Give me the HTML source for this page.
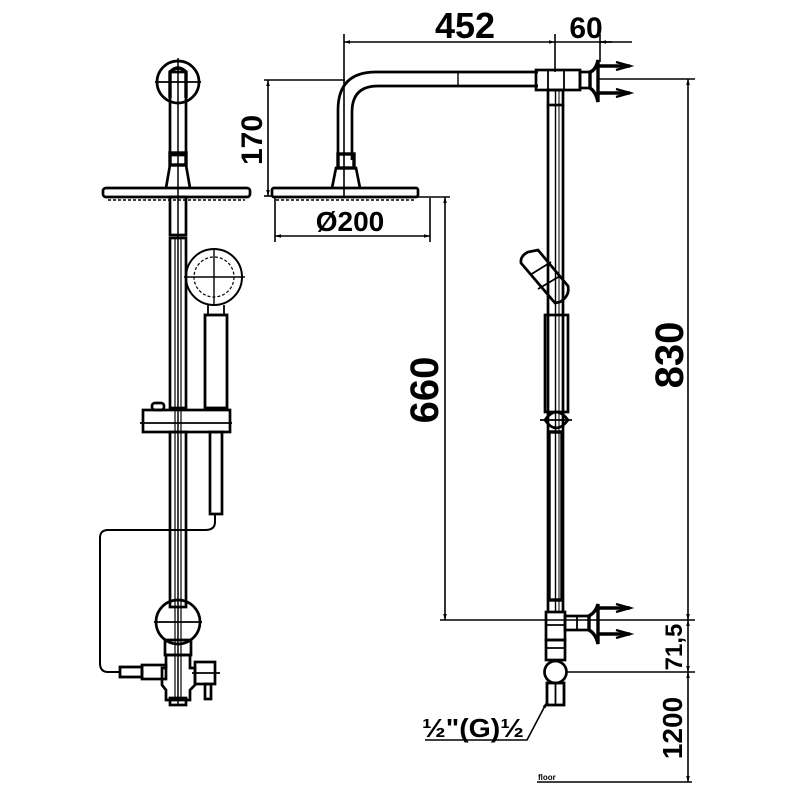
<!DOCTYPE html>
<html><head><meta charset="utf-8"><style>
html,body{margin:0;padding:0;background:#fff}
svg{display:block}
text{font-family:"Liberation Sans",sans-serif;font-weight:bold;fill:#000}
</style></head><body>
<svg width="800" height="800" viewBox="0 0 800 800" xmlns="http://www.w3.org/2000/svg">
<defs>
<marker id="a" viewBox="0 0 10 10" refX="10" refY="5" markerWidth="8" markerHeight="6" orient="auto-start-reverse" markerUnits="userSpaceOnUse"><path d="M0,2 L10,5 L0,8 z" fill="#000"/></marker>
</defs>
<g fill="none" stroke="#000" stroke-width="2.7">
<!-- LEFT VIEW -->
<circle cx="178" cy="82" r="21"/>
<line x1="155" y1="82" x2="201" y2="82" stroke-width="1.8"/>
<line x1="178" y1="58" x2="178" y2="705" stroke-width="1.5"/>
<path d="M170,98 V72 Q178,64 186,72 V98" stroke-width="3.4"/>
<rect x="170" y="72" width="16" height="83"/>
<rect x="170" y="153" width="16" height="12" stroke-width="3.4"/>
<path d="M166,188 L170,165 H186 L190,188"/>
<rect x="103" y="188" width="147" height="9" rx="3"/>
<line x1="108" y1="200" x2="245" y2="200" stroke-width="1.4" stroke-dasharray="3,2"/>
<rect x="170" y="197" width="16" height="38"/>
<rect x="170" y="238" width="16" height="170"/>
<line x1="175" y1="238" x2="175" y2="700" stroke-width="1.2"/>
<line x1="181" y1="238" x2="181" y2="700" stroke-width="1.2"/>
<circle cx="214" cy="277" r="28" stroke-width="2"/>
<circle cx="214" cy="277" r="20" stroke-width="1.2" stroke-dasharray="3,2"/>
<line x1="184" y1="277" x2="245" y2="277" stroke-width="1.4"/>
<line x1="214" y1="250" x2="214" y2="305" stroke-width="1.4"/>
<rect x="205" y="315" width="22" height="93" stroke-width="2.8"/>
<line x1="208" y1="305" x2="208" y2="315" stroke-width="1.8"/>
<line x1="224" y1="305" x2="224" y2="315" stroke-width="1.8"/>
<rect x="143" y="410" width="87" height="22"/>
<line x1="140" y1="423" x2="232" y2="423" stroke-width="1.8"/>
<rect x="152" y="403" width="12" height="7" rx="3"/>
<rect x="170" y="432" width="16" height="175"/>
<rect x="210" y="432" width="12" height="82"/>
<path d="M215,514 V522 Q215,530 205,530 H108 Q100,530 100,538 V663 Q100,672 108,672 H120" stroke-width="2"/>
<circle cx="178" cy="622" r="22"/>
<line x1="154" y1="622" x2="202" y2="622" stroke-width="1.8"/>
<path d="M165,640 H191 V655 H165 Z"/>
<path d="M166,655 H190 V668 H195 V685 L190,690 V700 H166 V690 L162,685 V668 H166 Z"/>
<rect x="120" y="667" width="22" height="10" stroke-width="2.8"/>
<rect x="142" y="665" width="24" height="14"/>
<rect x="195" y="662" width="20" height="22"/>
<line x1="192" y1="673" x2="220" y2="673" stroke-width="1.8"/>
<rect x="205" y="684" width="6" height="15"/>
<rect x="170" y="698" width="16" height="7"/>

<!-- RIGHT VIEW -->
<path d="M338,160 V110 Q338,72 376,72 H538" />
<path d="M352,160 V112 Q352,86 378,86 H538" />
<line x1="458" y1="72" x2="458" y2="86" stroke-width="1.4"/>
<rect x="338" y="154" width="16" height="14" stroke-width="3.4"/>
<path d="M332,188 L336,168 H356 L360,188"/>
<rect x="272" y="188" width="146" height="9" rx="2"/>
<line x1="276" y1="200" x2="414" y2="200" stroke-width="1.4" stroke-dasharray="3,2"/>
<rect x="536" y="70" width="44" height="20"/>
<line x1="548" y1="70" x2="548" y2="90" stroke-width="1.8"/>
<line x1="564" y1="70" x2="564" y2="90" stroke-width="1.8"/>
<rect x="580" y="72" width="10" height="16"/>
<path d="M590,72 Q596,70 598,60 V102 Q596,92 590,88 Z" stroke-width="3.4"/>
<path d="M598,66 H630 M598,93 H630" stroke-width="3.4"/>
<path d="M616,62 L630,66 L616,70 M616,89 L630,93 L616,97" stroke-width="2.4"/>
<rect x="548" y="90" width="15" height="15"/>
<line x1="548" y1="105" x2="548" y2="612"/>
<line x1="563" y1="105" x2="563" y2="612"/>
<line x1="555.5" y1="90" x2="555.5" y2="612" stroke-width="1.4"/>
<line x1="559" y1="90" x2="559" y2="612" stroke-width="1"/>
<path d="M521,263 Q520,256 528,252 L538,250 L568,286 Q570,296 560,302 L555,303 Z"/>
<line x1="530" y1="275" x2="551" y2="262" stroke-width="1.8"/>
<line x1="538" y1="289" x2="560" y2="276" stroke-width="1.8"/>
<rect x="545" y="315" width="23" height="97"/>
<path d="M545,420 Q556,404 568,420 Q556,436 545,420 Z"/>
<line x1="540" y1="420" x2="572" y2="420" stroke-width="1.8"/>
<rect x="549" y="432" width="13" height="168" stroke-width="3.4"/>
<rect x="546" y="612" width="19" height="28"/>
<line x1="546" y1="625" x2="565" y2="625" stroke-width="1.8"/>
<rect x="565" y="616" width="24" height="14"/>
<line x1="577" y1="616" x2="577" y2="630" stroke-width="1.8"/>
<path d="M589,616 Q596,612 598,604 V644 Q596,634 589,630 Z" stroke-width="3.4"/>
<path d="M598,608 H630 M598,634 H630" stroke-width="3.4"/>
<path d="M616,604 L630,608 L616,612 M616,630 L630,634 L616,638" stroke-width="2.4"/>
<rect x="546" y="640" width="19" height="20"/>
<line x1="546" y1="648" x2="565" y2="648" stroke-width="1.8"/>
<circle cx="555.5" cy="672" r="11"/>
<rect x="547" y="683" width="17" height="22" stroke-width="2.8"/>
<line x1="555.5" y1="683" x2="555.5" y2="705" stroke-width="1.8"/>

<!-- DIMENSIONS -->
<g stroke-width="1.6">
<line x1="344" y1="34" x2="344" y2="198"/>
<line x1="555" y1="34" x2="555" y2="72"/>
<line x1="600" y1="34" x2="600" y2="62"/>
<line x1="344" y1="42" x2="555" y2="42" marker-start="url(#a)" marker-end="url(#a)"/>
<line x1="555" y1="42" x2="632" y2="42"/>
<line x1="600" y1="42" x2="612" y2="42" marker-start="url(#a)"/>
<line x1="264" y1="80" x2="345" y2="80"/>
<line x1="264" y1="196" x2="272" y2="196"/>
<line x1="268" y1="80" x2="268" y2="196" marker-start="url(#a)" marker-end="url(#a)"/>
<line x1="275" y1="198" x2="275" y2="242"/>
<line x1="430" y1="198" x2="430" y2="242"/>
<line x1="275" y1="236" x2="430" y2="236" marker-start="url(#a)" marker-end="url(#a)"/>
<line x1="418" y1="197" x2="450" y2="197"/>
<line x1="445" y1="197" x2="445" y2="620" marker-start="url(#a)" marker-end="url(#a)"/>
<line x1="440" y1="620" x2="695" y2="620"/>
<line x1="598" y1="79" x2="695" y2="79"/>
<line x1="688" y1="79" x2="688" y2="620" marker-start="url(#a)" marker-end="url(#a)"/>
<line x1="566" y1="672" x2="695" y2="672"/>
<line x1="688" y1="620" x2="688" y2="672" marker-start="url(#a)" marker-end="url(#a)"/>
<line x1="688" y1="672" x2="688" y2="782" marker-start="url(#a)" marker-end="url(#a)"/>
<line x1="537" y1="782" x2="692" y2="782"/>
<path d="M425,740 H527 L547,702" marker-end="url(#a)"/>
</g>
</g>
<text x="465" y="38" font-size="36" text-anchor="middle">452</text>
<text x="586" y="38" font-size="30" text-anchor="middle">60</text>
<text x="350" y="231" font-size="28" text-anchor="middle">Ø200</text>
<text transform="translate(262,140) rotate(-90)" font-size="30" text-anchor="middle">170</text>
<text transform="translate(438,390) rotate(-90)" font-size="40" text-anchor="middle">660</text>
<text transform="translate(683,355) rotate(-90)" font-size="40" text-anchor="middle">830</text>
<text transform="translate(682,647) rotate(-90)" font-size="24" text-anchor="middle">71,5</text>
<text transform="translate(682,728) rotate(-90)" font-size="28" text-anchor="middle">1200</text>
<text x="422" y="737" font-size="26" textLength="102" lengthAdjust="spacingAndGlyphs">½"(G)½</text>
<text x="538" y="780" font-size="8">floor</text>
</svg>
</body></html>
